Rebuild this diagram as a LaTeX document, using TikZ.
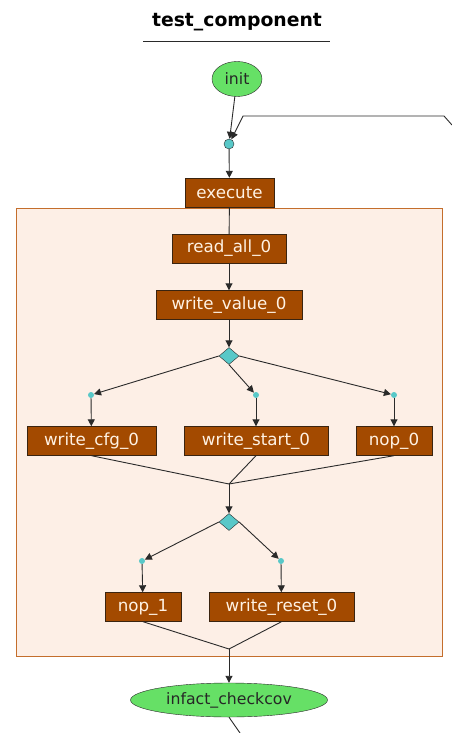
\documentclass[tikz,border=0pt]{standalone}
\usepackage{fontspec}
\setmainfont{DejaVu Sans}
\usetikzlibrary{arrows.meta,shapes.geometric}
\definecolor{boxfill}{HTML}{A34A00}
\definecolor{boxtext}{HTML}{FFF2E4}
\definecolor{boxline}{HTML}{3A2410}
\definecolor{startfill}{HTML}{66E066}
\definecolor{dotfill}{HTML}{58C8C8}
\definecolor{clusterfill}{HTML}{FDEFE6}
\definecolor{clusterline}{HTML}{C46E2C}
\definecolor{edgecol}{HTML}{2A2A2A}
\tikzset{
  actbox/.style={draw=boxline, fill=boxfill, text=boxtext, rectangle, inner sep=0pt,
    minimum height=29pt, font=\fontsize{16.7}{18}\selectfont},
  term/.style={draw=edgecol, fill=startfill, ellipse, inner sep=0pt, text=black!85,
    font=\fontsize{15.7}{17}\selectfont},
  joindot/.style={draw=edgecol, fill=dotfill, circle, inner sep=0pt, minimum size=10pt},
  smalldot/.style={fill=dotfill, circle, inner sep=0pt, minimum size=6pt},
  decision/.style={draw=edgecol, fill=dotfill, diamond, inner sep=0pt, minimum width=20pt, minimum height=17pt},
  flow/.style={draw=edgecol, line width=0.9pt, -{Triangle[length=7pt,width=7pt]}},
  plain/.style={draw=edgecol, line width=0.9pt},
}
\begin{document}
\begin{tikzpicture}[x=1pt,y=-1pt]
\useasboundingbox (0,0) rectangle (452,733);
\fill[white] (0,0) rectangle (452,733);

% heading
\node (title) at (237,22) {\fontsize{18.8}{20}\selectfont\bfseries test\_component};
\draw[edgecol, line width=0.9pt] (143,41) -- (330,41);

% cluster background
\node[draw=clusterline, fill=clusterfill, line width=0.9pt, rectangle, inner sep=0pt,
  minimum width=426pt, minimum height=448pt] (cluster) at (229,432) {};

% start and loop entry
\node[term, minimum width=50pt, minimum height=35pt] (init) at (237,79) {init};
\node[joindot] (join) at (229,144) {};
\node[actbox, minimum width=89pt] (execute) at (229.5,192.5) {execute};

\coordinate (fb0) at (452,125);
\coordinate (fb1) at (444,116);
\coordinate (fb2) at (243,116);
\draw[flow] (init) -- (join);
\draw[flow] (fb0) -- (fb1) -- (fb2) -- (join);
\draw[flow] (join) -- (execute);

% body
\node[actbox, minimum width=114pt] (readall) at (229,248.5) {read\_all\_0};
\node[actbox, minimum width=146pt] (writevalue) at (229,305) {write\_value\_0};
\node[decision] (dec1) at (229,356) {};
\draw[plain] (execute) -- (readall);
\draw[flow] (readall) -- (writevalue);
\draw[flow] (writevalue) -- (dec1);

\node[smalldot] (p1) at (91,395) {};
\node[smalldot] (p2) at (256,395) {};
\node[smalldot] (p3) at (394,395) {};
\draw[flow] (dec1.west) -- (p1);
\draw[flow] (dec1.south) -- (p2);
\draw[flow] (dec1.east) -- (p3);

\node[actbox, minimum width=129pt] (cfg) at (91.5,441) {write\_cfg\_0};
\node[actbox, minimum width=144pt] (start) at (256,441) {write\_start\_0};
\node[actbox, minimum width=76pt] (nop0) at (394,441) {nop\_0};
\draw[flow] (p1) -- (cfg);
\draw[flow] (p2) -- (start);
\draw[flow] (p3) -- (nop0);

\coordinate (m1) at (229,484);
\draw[plain] (cfg.south) -- (m1);
\draw[plain] (start.south) -- (m1);
\draw[plain] (nop0.south) -- (m1);
\node[decision] (dec2) at (229,522) {};
\draw[flow] (m1) -- (dec2);

\node[smalldot] (q1) at (142,561) {};
\node[smalldot] (q2) at (281,561) {};
\draw[flow] (dec2.west) -- (q1);
\draw[flow] (dec2.east) -- (q2);

\node[actbox, minimum width=76pt] (nop1) at (143,607) {nop\_1};
\node[actbox, minimum width=145pt] (reset) at (281.5,607) {write\_reset\_0};
\draw[flow] (q1) -- (nop1);
\draw[flow] (q2) -- (reset);

\coordinate (m2) at (229,649);
\draw[plain] (nop1.south) -- (m2);
\draw[plain] (reset.south) -- (m2);

% end
\node[term, minimum width=197pt, minimum height=34pt] (check) at (229,700) {infact\_checkcov};
\draw[flow] (m2) -- (check);
\coordinate (out) at (240,733);
\draw[plain] (check.south) -- (out);
\end{tikzpicture}
\end{document}
